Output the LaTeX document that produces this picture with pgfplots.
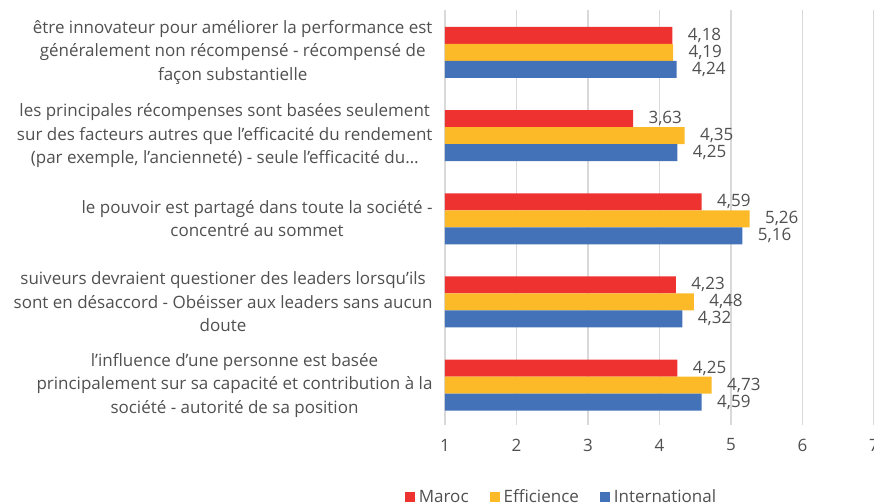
\documentclass[border=0pt]{standalone}
\usepackage{fontspec}
\setmainfont{Open Sans}
\usepackage{pgfplots}
\pgfplotsset{compat=1.18}
\definecolor{cRed}{RGB}{237,50,47}
\definecolor{cYel}{RGB}{252,186,40}
\definecolor{cBlue}{RGB}{68,114,185}
\definecolor{txt}{RGB}{80,80,80}
\definecolor{gridc}{RGB}{217,217,217}
\begin{document}
\begin{tikzpicture}
\useasboundingbox (-445bp,-78bp) rectangle (429bp,425bp);
\begin{axis}[
  at={(0,0)}, anchor=south west,
  scale only axis, width=429bp, height=415bp,
  xbar, bar width=17bp,
  xmin=1, xmax=7, xtick={1,2,3,4,5,6,7},
  ymin=0.49, ymax=5.48, y dir=reverse,
  ytick={1,2,3,4,5},
  yticklabels={
    {être innovateur pour améliorer la performance est\\généralement non récompensé - récompensé de\\façon substantielle},
    {les principales récompenses sont basées seulement\\sur des facteurs autres que l'efficacité du rendement\\(par exemple, l'ancienneté) - seule l'efficacité du…},
    {le pouvoir est partagé dans toute la société -\\concentré au sommet},
    {suiveurs devraient questioner des leaders lorsqu'ils\\sont en désaccord - Obéisser aux leaders sans aucun\\doute},
    {l'influence d'une personne est basée\\principalement sur sa capacité et contribution à la\\société - autorité de sa position}},
  yticklabel style={align=center, anchor=east, xshift=-9bp, font=\fontsize{17bp}{23.5bp}\selectfont, text=txt},
  xticklabel style={anchor=center, yshift=-20bp, font=\fontsize{17bp}{20bp}\selectfont, text=txt},
  /pgf/number format/assume math mode=true,
  axis line style={draw=none},
  major tick length=0pt,
  xmajorgrids, grid style={draw=gridc, line width=1.2bp},
  nodes near coords,
  every node near coord/.append style={font=\fontsize{17bp}{20bp}\selectfont, text=txt, anchor=west, xshift=12bp,
    /pgf/number format/use comma,
    /pgf/number format/fixed,
    /pgf/number format/precision=2,
    /pgf/number format/fixed zerofill},
  legend columns=3,
  legend style={draw=none, fill=none, at={(0.2716,-0.1735)}, anchor=center,
    font=\fontsize{17bp}{20bp}\selectfont, text=txt,
    /tikz/every odd column/.append style={column sep=2bp},
    /tikz/every even column/.append style={column sep=19bp}},
  legend image code/.code={\fill[#1] (0bp,-5bp) rectangle (10bp,5bp);},
]
\addplot[fill=cRed, draw=none, bar shift=17bp] coordinates {(4.18,1) (3.63,2) (4.59,3) (4.23,4) (4.25,5)};
\addlegendentry{Maroc}
\addplot[fill=cYel, draw=none, bar shift=0bp] coordinates {(4.19,1) (4.35,2) (5.26,3) (4.48,4) (4.73,5)};
\addlegendentry{Efficience}
\addplot[fill=cBlue, draw=none, bar shift=-17bp] coordinates {(4.24,1) (4.25,2) (5.16,3) (4.32,4) (4.59,5)};
\addlegendentry{International}
\end{axis}
\end{tikzpicture}
\end{document}
